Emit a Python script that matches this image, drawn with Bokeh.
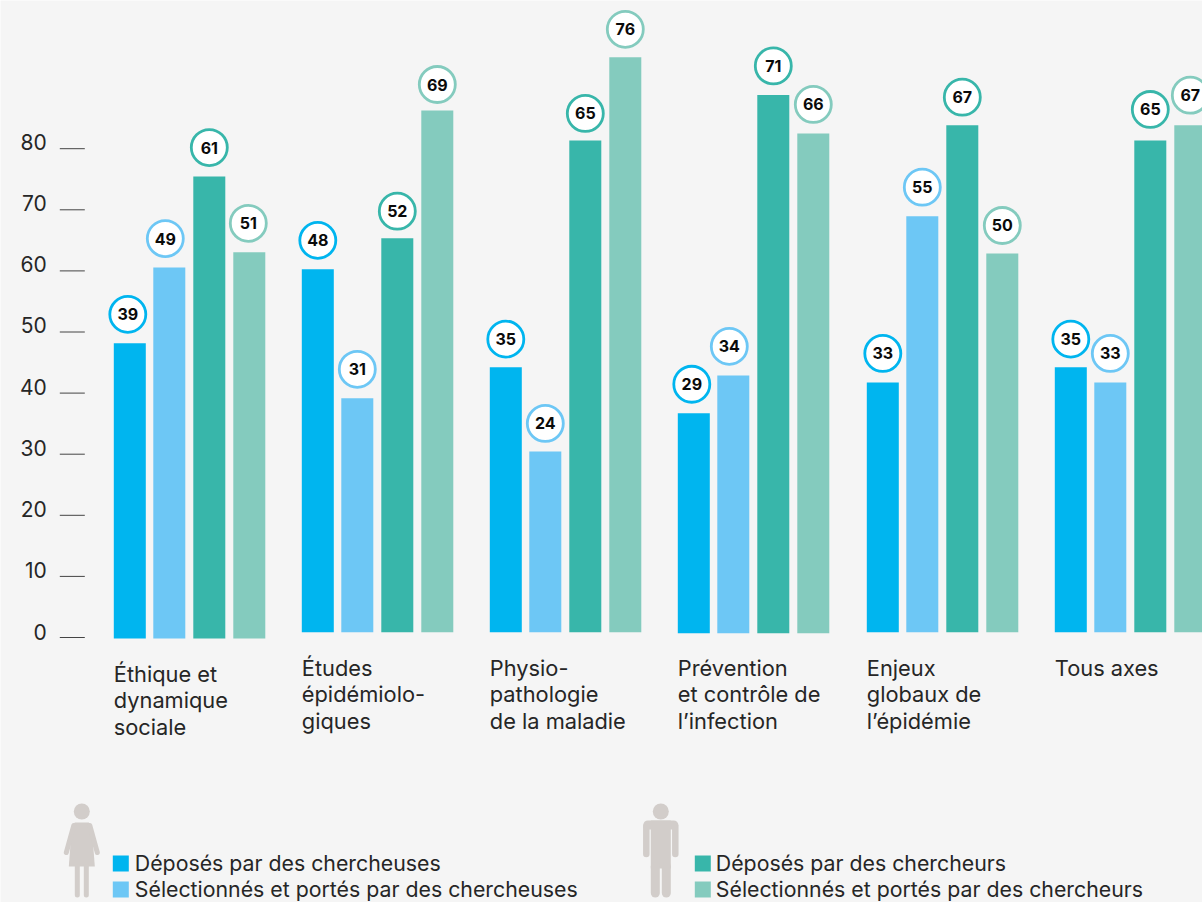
from bokeh.plotting import figure
from bokeh.models import Range1d
from bokeh.core.properties import value
from bokeh.embed import file_html
from bokeh.resources import INLINE

# ---- data ----
categories = [
    ["Éthique et", "dynamique", "sociale"],
    ["Études", "épidémiolo-", "giques"],
    ["Physio-", "pathologie", "de la maladie"],
    ["Prévention", "et contrôle de", "l’infection"],
    ["Enjeux", "globaux de", "l’épidémie"],
    ["Tous axes"],
]
series_names = [
    "Déposés par des chercheuses",
    "Sélectionnés et portés par des chercheuses",
    "Déposés par des chercheurs",
    "Sélectionnés et portés par des chercheurs",
]
deposes_f = [48.3, 59.4, 43.4, 36.0, 40.9, 43.4]
selection_f = [60.7, 38.3, 29.6, 42.2, 68.1, 40.9]
deposes_h = [75.6, 64.5, 80.5, 88.1, 83.0, 80.5]
selection_h = [63.2, 85.4, 94.1, 81.8, 62.0, 83.0]
labels_deposes_f = [39, 48, 35, 29, 33, 35]
labels_selection_f = [49, 31, 24, 34, 55, 33]
labels_deposes_h = [61, 52, 65, 71, 67, 65]
labels_selection_h = [51, 69, 76, 66, 50, 67]
y_ticks = [0, 10, 20, 30, 40, 50, 60, 70, 80]

# ---- style and layout ----
COLORS = ["#00b5ef", "#6dc7f5", "#38b6aa", "#84cbbe"]
ICON = "#d2cdca"
BG = "#f5f5f5"
INK = "#262626"
FONT = "Inter"
SCALE = 6.11           # px per unit
Y0 = 637               # pixel row of 0
group_left = [114, 302, 490, 678, 867, 1055]
bar_step = [0, 39.5, 79.5, 119.5]
bar_w = 32
group_base = [-0.16, 0.85, 0.85, 0.7, 0.85, 0.85]
cat_row0 = [673, 667, 667, 667, 667, 667]
nudge = {(0, 0): -2, (0, 1): -4, (0, 3): -1, (3, 0): -2, (3, 1): -4}
nudge_y = {(1, 2): 2, (1, 3): 3, (2, 2): 2, (2, 3): 1, (5, 2): -2, (5, 3): -1,
           (4, 2): 1, (4, 3): 1, (2, 0): 1, (2, 1): 1, (5, 0): 1}

W, H = 1202, 902
p = figure(width=W, height=H, output_backend="svg", toolbar_location=None,
           x_range=Range1d(0.7, W + 0.7),
           y_range=Range1d((Y0 - H) / SCALE, Y0 / SCALE),
           min_border=0, background_fill_color=BG, border_fill_color=BG,
           outline_line_color=None)
p.axis.visible = False
p.grid.visible = False
p.extra_y_ranges["px"] = Range1d(H, 0)

# y ticks
p.segment([60] * len(y_ticks), y_ticks, [85] * len(y_ticks), y_ticks,
          line_color="#444444", line_width=1)
p.text([47] * len(y_ticks), [t + 5 / SCALE + (t / 80) * 1 / SCALE + 1 / SCALE for t in y_ticks],
       text=[str(t) for t in y_ticks], text_align="right", text_baseline="middle",
       text_font=value(FONT), text_font_size="21px", text_color=INK)

# bars and badges
heights = [deposes_f, selection_f, deposes_h, selection_h]
labels = [labels_deposes_f, labels_selection_f, labels_deposes_h, labels_selection_h]
for s, (hs, ls, col) in enumerate(zip(heights, labels, COLORS)):
    lefts = [g + bar_step[s] for g in group_left]
    bottoms = list(group_base)
    tops = [b + h for b, h in zip(bottoms, hs)]
    rights = [l + bar_w for l in lefts]
    p.quad(left=lefts, right=rights, bottom=bottoms, top=tops,
           fill_color=col, line_color=None)
    cx = [l + bar_w / 2 + nudge.get((g, s), 0) for g, l in enumerate(lefts)]
    cy = [t + (29 - nudge_y.get((g, s), 0)) / SCALE for g, t in enumerate(tops)]
    p.scatter(cx, cy, size=36, marker="circle", fill_color="white",
              line_color=col, line_width=2.8)
    p.text(cx, cy, text=[str(v) for v in ls], text_align="center", text_baseline="middle",
           text_font=value(FONT), text_font_style="bold", text_font_size="16px",
           text_color="#0a0a0a")

# category labels
for g, lines in enumerate(categories):
    for i, line in enumerate(lines):
        p.text([group_left[g]], [cat_row0[g] + i * 26.8], text=[line],
               y_range_name="px", text_align="left", text_baseline="middle",
               text_font=value(FONT), text_font_size="21.8px", text_color=INK)

# legend
for s, (sx, sy, tx) in enumerate([(113, 855, 135), (113, 881, 135), (695, 855, 716), (695, 881, 716)]):
    p.quad(left=[sx], right=[sx + 16], top=[sy], bottom=[sy + 16], y_range_name="px",
           fill_color=COLORS[s], line_color=None)
    p.text([tx], [sy + 7], text=[series_names[s]], y_range_name="px",
           text_align="left", text_baseline="middle",
           text_font=value(FONT), text_font_size="21.3px", text_color=INK)

# woman icon
p.circle([82], [811], radius=8, fill_color=ICON, line_color=None, y_range_name="px")
p.patch([75, 89, 92, 95, 69, 72], [822, 822, 826, 866, 866, 826], fill_color=ICON,
        line_color=None, y_range_name="px")
for xs, ys in [([74, 66.5], [825, 852]), ([90, 97.5], [825, 852]),
               ([77.5, 77.5], [866, 894.5]), ([86.5, 86.5], [866, 894.5])]:
    p.line(xs, ys, line_color=ICON, line_width=5, line_cap="round", y_range_name="px")

# man icon
p.circle([661], [811], radius=8, fill_color=ICON, line_color=None, y_range_name="px")
p.quad(left=[651], right=[671], top=[820], bottom=[868], fill_color=ICON, line_color=None,
       y_range_name="px")
for xs, ys, w in [([646.5, 646.5], [826, 853.5], 6.5), ([675.5, 675.5], [826, 853.5], 6.5),
                  ([655.5, 655.5], [866, 892.5], 9), ([666.5, 666.5], [866, 892.5], 9),
                  ([648, 674], [824.5, 824.5], 9)]:
    p.line(xs, ys, line_color=ICON, line_width=w, line_cap="round", y_range_name="px")

open("out.html", "w").write(file_html(p, INLINE))
